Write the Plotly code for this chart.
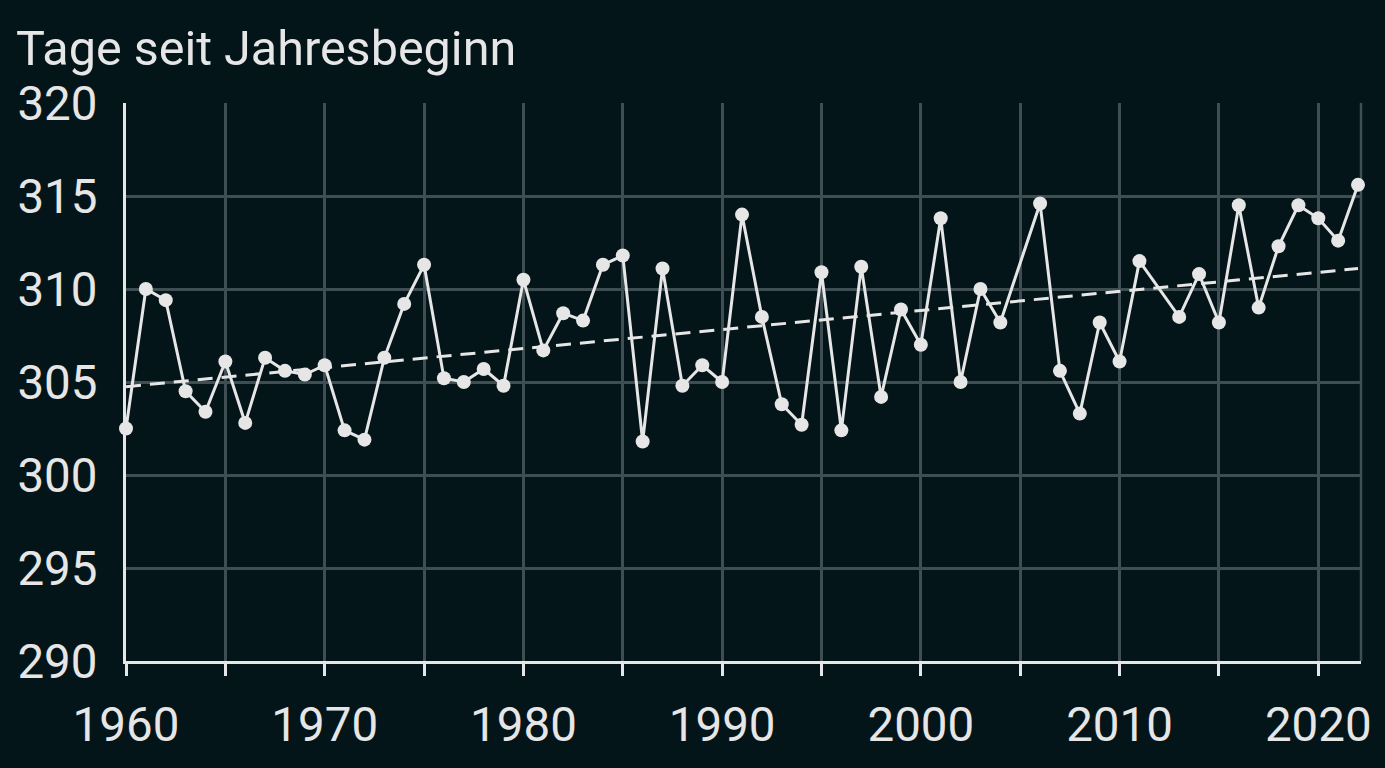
import plotly.graph_objects as go

years = [1960, 1961, 1962, 1963, 1964, 1965, 1966, 1967, 1968, 1969,
         1970, 1971, 1972, 1973, 1974, 1975, 1976, 1977, 1978, 1979,
         1980, 1981, 1982, 1983, 1984, 1985, 1986, 1987, 1988, 1989,
         1990, 1991, 1992, 1993, 1994, 1995, 1996, 1997, 1998, 1999,
         2000, 2001, 2002, 2003, 2004, 2006, 2007, 2008, 2009,
         2010, 2011, 2013, 2014, 2015, 2016, 2017, 2018, 2019,
         2020, 2021, 2022]
days = [302.5, 310.0, 309.4, 304.5, 303.4, 306.1, 302.8, 306.3, 305.6, 305.4,
        305.9, 302.4, 301.9, 306.3, 309.2, 311.3, 305.2, 305.0, 305.7, 304.8,
        310.5, 306.7, 308.7, 308.3, 311.3, 311.8, 301.8, 311.1, 304.8, 305.9,
        305.0, 314.0, 308.5, 303.8, 302.7, 310.9, 302.4, 311.2, 304.2, 308.9,
        307.0, 313.8, 305.0, 310.0, 308.2, 314.6, 305.6, 303.3, 308.2,
        306.1, 311.5, 308.5, 310.8, 308.2, 314.5, 309.0, 312.3, 314.5,
        313.8, 312.6, 315.6]

trend_years = [1960, 2022]
trend_days = [304.75, 311.1]

y_ticks = [290, 295, 300, 305, 310, 315, 320]
x_label_ticks = [1960, 1970, 1980, 1990, 2000, 2010, 2020]

BG = "#04151a"
GRID = "#3e4e52"
FG = "#e6e6e6"
FONT = "Roboto, 'Noto Sans', sans-serif"

fig = go.Figure()
fig.add_trace(go.Scatter(
    x=trend_years, y=trend_days, mode="lines",
    line=dict(color=FG, width=3, dash="15px,9px"),
    hoverinfo="skip", showlegend=False))
fig.add_trace(go.Scatter(
    x=years, y=days, mode="lines+markers",
    line=dict(color=FG, width=3),
    marker=dict(color=FG, size=14),
    cliponaxis=False, showlegend=False))

fig.add_shape(type="line", xref="paper", yref="paper", x0=1, x1=1, y0=0, y1=1,
              line=dict(color=GRID, width=2.5), layer="below")

fig.add_annotation(text="Tage seit Jahresbeginn", xref="paper", yref="paper",
                   x=-112 / 1235, y=1 + 24 / 558, xanchor="left", yanchor="bottom",
                   showarrow=False, font=dict(family=FONT, size=48.5, color=FG))

fig.update_layout(
    width=1385, height=768,
    margin=dict(l=126, r=24, t=103, b=107),
    paper_bgcolor=BG, plot_bgcolor=BG,
    font=dict(family=FONT, size=47.5, color=FG),
    xaxis=dict(
        range=[1960, 2022.15],
        tickmode="array", tickvals=x_label_ticks,
        ticks="outside", ticklen=12, tickwidth=2.5, tickcolor=FG,
        showgrid=True, gridcolor=GRID, gridwidth=2.5,
        showline=True, linecolor=FG, linewidth=3,
        zeroline=False, ticklabelstandoff=8,
        minor=dict(dtick=5, tick0=1960, ticks="outside", ticklen=12,
                   tickwidth=2.5, tickcolor=FG, showgrid=True,
                   gridcolor=GRID, gridwidth=2.5),
    ),
    yaxis=dict(
        range=[290, 320],
        tickmode="array", tickvals=y_ticks,
        ticks="", showgrid=True, gridcolor=GRID, gridwidth=2.5,
        showline=True, linecolor=FG, linewidth=3,
        zeroline=False, ticklabelstandoff=16,
    ),
)

fig.write_html("out.html")
